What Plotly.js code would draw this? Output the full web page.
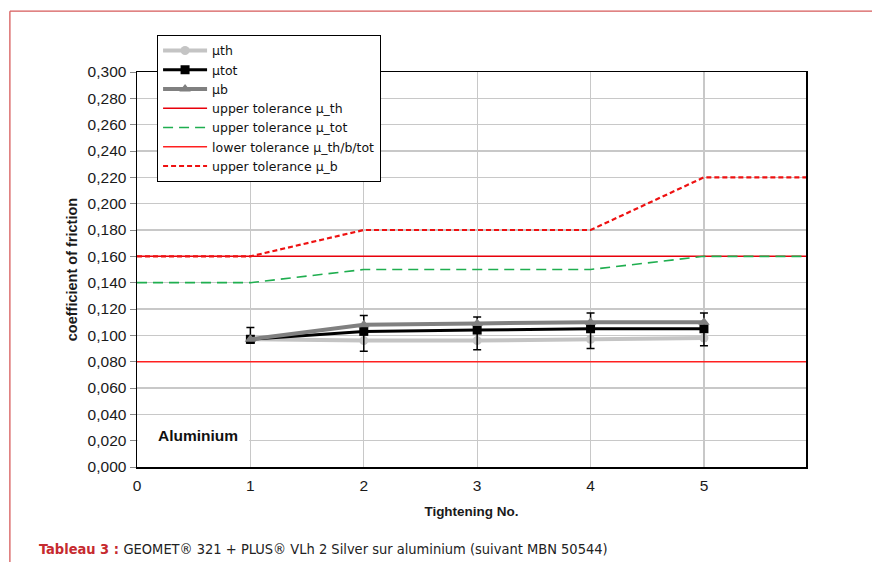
<!DOCTYPE html>
<html>
<head>
<meta charset="utf-8">
<script src="https://cdn.plot.ly/plotly-3.0.1.min.js"></script>
<style>
html,body{margin:0;padding:0;background:#fff;}
#chart{width:872px;height:562px;}
</style>
</head>
<body>
<div id="chart"></div>
<script>
// ---- data ----
const tightening = [1, 2, 3, 4, 5];
const muTh  = [0.097, 0.096, 0.096, 0.097, 0.098];
const muTot = [0.097, 0.103, 0.104, 0.105, 0.105];
const muB   = [0.097, 0.108, 0.109, 0.110, 0.110];
const muTotErrPlus  = [0.009, 0.012, 0.010, 0.012, 0.012];
const muTotErrMinus = [0.003, 0.015, 0.015, 0.015, 0.013];

const tolX = [0, 1, 2, 3, 4, 5, 6];
const upperTolTh  = [0.16, 0.16, 0.16, 0.16, 0.16, 0.16, 0.16];
const upperTolTot = [0.14, 0.14, 0.15, 0.15, 0.15, 0.16, 0.16];
const lowerTol    = [0.08, 0.08, 0.08, 0.08, 0.08, 0.08, 0.08];
const upperTolB   = [0.16, 0.16, 0.18, 0.18, 0.18, 0.22, 0.22];

const yTicks = [0, 0.02, 0.04, 0.06, 0.08, 0.10, 0.12, 0.14, 0.16, 0.18, 0.20, 0.22, 0.24, 0.26, 0.28, 0.30];
const xTicks = [0, 1, 2, 3, 4, 5];

const seriesNames = ['µth', 'µtot', 'µb', 'upper tolerance µ_th', 'upper tolerance µ_tot',
                     'lower tolerance µ_th/b/tot', 'upper tolerance µ_b'];

const FONT = 'Liberation Sans, Arial, sans-serif';

const traces = [
  {x: tightening, y: muTh, name: seriesNames[0], mode: 'lines+markers',
   line: {color: '#c4c4c4', width: 4}, marker: {symbol: 'circle', size: 9, color: '#c4c4c4'}},
  {x: tightening, y: muTot, name: seriesNames[1], mode: 'lines+markers',
   line: {color: '#000000', width: 3}, marker: {symbol: 'square', size: 9, color: '#000000'},
   error_y: {type: 'data', symmetric: false, array: muTotErrPlus, arrayminus: muTotErrMinus,
             color: '#000000', thickness: 1.5, width: 4}},
  {x: tightening, y: muB, name: seriesNames[2], mode: 'lines+markers',
   line: {color: '#808080', width: 4}, marker: {symbol: 'triangle-up', size: 10, color: '#808080'}},
  {x: tolX, y: upperTolTh, name: seriesNames[3], mode: 'lines',
   line: {color: '#e8000b', width: 1.5}},
  {x: tolX, y: upperTolTot, name: seriesNames[4], mode: 'lines',
   line: {color: '#1fae4f', width: 1.6, dash: '10px,6px'}},
  {x: tolX, y: lowerTol, name: seriesNames[5], mode: 'lines',
   line: {color: '#ff2020', width: 1.5}},
  {x: tolX, y: upperTolB, name: seriesNames[6], mode: 'lines',
   line: {color: '#ee1111', width: 2.2, dash: '5px,3px'}}
];

const layout = {
  width: 872, height: 562,
  margin: {l: 137, r: 66, t: 72, b: 95},
  paper_bgcolor: '#ffffff', plot_bgcolor: '#ffffff',
  separators: ', ',
  font: {family: FONT, size: 14, color: '#1a1a1a'},
  showlegend: true,
  legend: {
    x: 0.03, y: 1.094, xanchor: 'left', yanchor: 'top',
    bgcolor: '#ffffff', bordercolor: '#000000', borderwidth: 1,
    font: {family: 'DejaVu Sans, sans-serif', size: 12.5, color: '#111'},
    itemwidth: 44, tracegroupgap: 0, traceorder: 'normal'
  },
  xaxis: {
    range: [0, 5.9], tickvals: xTicks, ticktext: xTicks.map(String),
    showgrid: true, gridcolor: '#c8c8c8', gridwidth: 1.2, zeroline: false,
    showline: true, linecolor: '#000000', linewidth: 1.5, mirror: true,
    ticks: 'outside', ticklen: 4, tickcolor: 'rgba(0,0,0,0)',
    tickfont: {family: FONT, size: 15.5, color: '#1a1a1a'},
    title: {text: '<b>Tightening No.</b>', font: {family: FONT, size: 13.5, color: '#1a1a1a'}, standoff: 13}
  },
  yaxis: {
    range: [0, 0.3], tickvals: yTicks, tickformat: '.3f',
    showgrid: true, gridcolor: '#c8c8c8', gridwidth: 1.2, zeroline: false,
    showline: true, linecolor: '#000000', linewidth: 1.5, mirror: true,
    ticks: 'outside', ticklen: 6, tickcolor: '#888888',
    tickfont: {family: FONT, size: 15.5, color: '#1a1a1a'},
    title: {text: '<b>coefficient of friction</b>', font: {family: FONT, size: 14.5, color: '#1a1a1a'}, standoff: 6}
  },
  shapes: [
    {type: 'rect', xref: 'x', yref: 'y', x0: 0.005, x1: 0.99, y0: 0.0108, y1: 0.0385,
     fillcolor: '#ffffff', line: {width: 0}, layer: 'between'},
    {type: 'line', xref: 'paper', yref: 'paper', x0: -0.19, x1: 1.1, y0: 1.154, y1: 1.154,
     line: {color: '#d65a5a', width: 1.3}},
    {type: 'line', xref: 'paper', yref: 'paper', x0: -0.19, x1: -0.19, y0: 1.154, y1: -0.25,
     line: {color: '#d65a5a', width: 1.3}}
  ],
  annotations: [
    {xref: 'x', yref: 'y', x: 0.17, y: 0.0238, xanchor: 'left', yanchor: 'middle',
     text: '<b>Aluminium</b>', showarrow: false,
     font: {family: FONT, size: 15.5, color: '#111'}},
    {xref: 'paper', yref: 'paper', x: -0.149, y: -0.208, xanchor: 'left', yanchor: 'middle',
     showarrow: false,
     text: '<span style="color:#c62a2f;font-weight:bold">Tableau 3 : </span>GEOMET® 321 + PLUS® VLh 2 Silver sur aluminium (suivant MBN 50544)',
     font: {family: 'DejaVu Sans Condensed, Liberation Sans Narrow, Roboto, sans-serif', size: 14.5, color: '#222'}}
  ]
};

Plotly.newPlot('chart', traces, layout, {displayModeBar: false, staticPlot: true});
</script>
</body>
</html>
